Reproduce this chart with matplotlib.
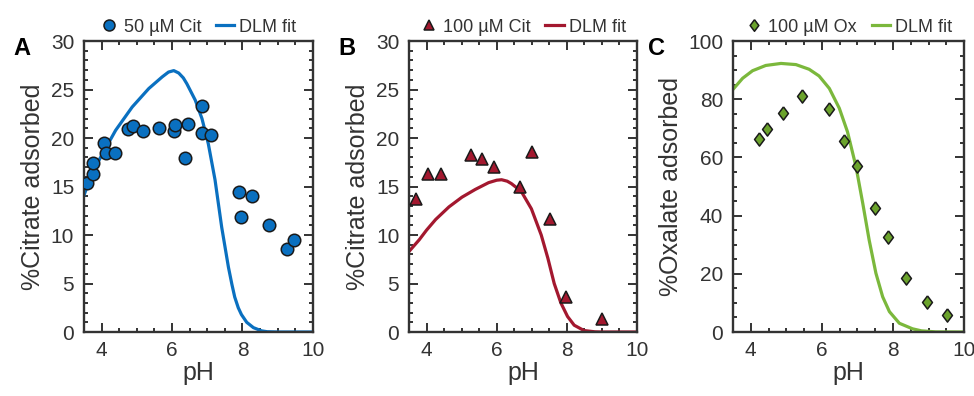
import numpy as np
import matplotlib.pyplot as plt
from matplotlib.ticker import MultipleLocator

plt.rcParams['font.family'] = ['Liberation Sans', 'DejaVu Sans']
plt.rcParams['text.color'] = '#333333'
plt.rcParams['axes.labelcolor'] = '#333333'

# 50 uM citrate data and DLM fit
ph_cit50 = [3.58, 3.75, 3.76, 4.06, 4.13, 4.39, 4.75, 4.90, 5.18, 5.63, 6.05, 6.08,
            6.38, 6.45, 6.85, 6.86, 7.12, 7.89, 7.97, 8.28, 8.76, 9.25, 9.47]
ads_cit50 = [15.4, 16.25, 17.45, 19.5, 18.5, 18.45, 20.9, 21.2, 20.75, 21.0, 20.7, 21.35,
             17.95, 21.45, 23.35, 20.5, 20.3, 14.45, 11.85, 14.05, 11.0, 8.6, 9.5]
ph_fit50 = [3.5, 3.75, 4.0, 4.4, 4.87, 5.34, 5.72, 5.9, 6.05, 6.19, 6.32, 6.42, 6.66, 6.85,
            7.03, 7.22, 7.41, 7.6, 7.7, 7.78, 7.88, 7.97, 8.12, 8.31, 8.54, 8.7, 9.0, 10.0]
fit_cit50 = [14.1, 16.5, 18.2, 20.8, 23.2, 25.1, 26.3, 26.8, 26.95, 26.7, 26.2, 25.6, 23.9,
             22.0, 19.4, 15.7, 10.8, 6.7, 4.9, 3.6, 2.5, 1.8, 1.0, 0.45, 0.12, 0.03, 0.0, 0.0]

# 100 uM citrate data and DLM fit
ph_cit100 = [3.69, 4.05, 4.41, 5.27, 5.59, 5.92, 6.67, 7.0, 7.52, 7.97, 9.01]
ads_cit100 = [13.7, 16.3, 16.3, 18.3, 17.8, 17.0, 14.95, 18.6, 11.6, 3.6, 1.35]
ph_fit100 = [3.5, 3.79, 4.0, 4.26, 4.64, 5.01, 5.39, 5.77, 6.0, 6.14, 6.3, 6.42, 6.70, 6.99,
             7.27, 7.46, 7.64, 7.83, 8.02, 8.21, 8.49, 8.8, 9.0, 10.0]
fit_cit100 = [8.3, 9.5, 10.5, 11.6, 12.9, 13.9, 14.7, 15.4, 15.65, 15.7, 15.55, 15.3, 14.5,
              12.7, 10.0, 7.6, 5.0, 3.0, 1.6, 0.7, 0.15, 0.02, 0.0, 0.0]

# 100 uM oxalate data and DLM fit
ph_ox100 = [4.22, 4.45, 4.91, 5.44, 6.19, 6.63, 6.98, 7.50, 7.87, 8.37, 8.95, 9.53]
ads_ox100 = [66.2, 69.8, 75.1, 81.1, 76.5, 65.8, 57.2, 42.7, 32.8, 18.4, 10.2, 6.0]
ph_fitox = [3.5, 3.77, 4.05, 4.42, 4.85, 5.27, 5.64, 5.92, 6.21, 6.49, 6.72, 6.96, 7.15,
            7.33, 7.52, 7.71, 7.90, 8.18, 8.55, 8.8, 9.2, 10.0]
fit_ox100 = [83.4, 87.2, 89.8, 91.6, 92.3, 91.9, 90.3, 88.0, 83.7, 76.9, 68.8, 56.8, 44.2,
             31.6, 20.2, 12.1, 7.0, 3.0, 1.1, 0.4, 0.05, 0.0]

blue = '#0a70c0'
red = '#a3182f'
green = '#6ba32c'
line_green = '#7bb83c'
diamond = [(0, 1), (0.75, 0), (0, -1), (-0.75, 0), (0, 1)]

fig = plt.figure(figsize=(9.74, 3.96), dpi=100)
rects = [[0.0862, 0.1616, 0.2351, 0.7348],
         [0.4199, 0.1616, 0.2341, 0.7348],
         [0.7526, 0.1616, 0.2372, 0.7348]]
axs = [fig.add_axes(r) for r in rects]

panels = [
    (ph_cit50, ads_cit50, ph_fit50, fit_cit50, 'o', 9, blue, blue, '50 µM Cit',
     '%Citrate adsorbed', 30, 5, 1, 'A'),
    (ph_cit100, ads_cit100, ph_fit100, fit_cit100, '^', 8.5, red, red, '100 µM Cit',
     '%Citrate adsorbed', 30, 5, 1, 'B'),
    (ph_ox100, ads_ox100, ph_fitox, fit_ox100, diamond, 9.5, green, line_green, '100 µM Ox',
     '%Oxalate adsorbed', 100, 20, 5, 'C'),
]

for ax, (px, py, fx, fy, mk, ms, mc, lc, lab, ylab, ymax, ymaj, ymin, letter) in zip(axs, panels):
    ax.plot(px, py, linestyle='none', marker=mk, markersize=ms, markerfacecolor=mc,
            markeredgecolor='#1a1a1a', markeredgewidth=1.1, label=lab, zorder=3)
    ax.plot(fx, fy, color=lc, lw=2.3, label='DLM fit', zorder=2)
    ax.set_xlim(3.5, 10)
    ax.set_ylim(0, ymax)
    ax.xaxis.set_major_locator(MultipleLocator(2))
    ax.xaxis.set_minor_locator(MultipleLocator(0.5))
    ax.yaxis.set_major_locator(MultipleLocator(ymaj))
    ax.yaxis.set_minor_locator(MultipleLocator(ymin))
    ax.tick_params(which='both', direction='in', top=True, right=True,
                   color='#333333', labelcolor='#333333', labelsize=15)
    ax.tick_params(which='major', length=6.5, width=1.4)
    ax.tick_params(which='minor', length=3.2, width=1.4)
    ax.tick_params(axis='x', which='major', pad=6.5)
    ax.tick_params(axis='y', which='major', pad=7)
    for s in ax.spines.values():
        s.set_linewidth(1.7)
        s.set_color('#333333')
    ax.set_xlabel('pH', fontsize=18, labelpad=1)
    ax.set_ylabel(ylab, fontsize=18, labelpad=4)
    ax.legend(loc='center', bbox_to_anchor=(0.5, 1.048), ncol=2, frameon=False,
              fontsize=13, markerscale=0.88, handlelength=1.0, handletextpad=0.3,
              columnspacing=0.8, borderpad=0, borderaxespad=0)
    ax.text(-0.27 if letter != 'C' else -0.33, 0.975, letter, transform=ax.transAxes,
            fontsize=17, fontweight='bold', color='black', ha='center', va='center')

fig.savefig('out.png', dpi=100)
